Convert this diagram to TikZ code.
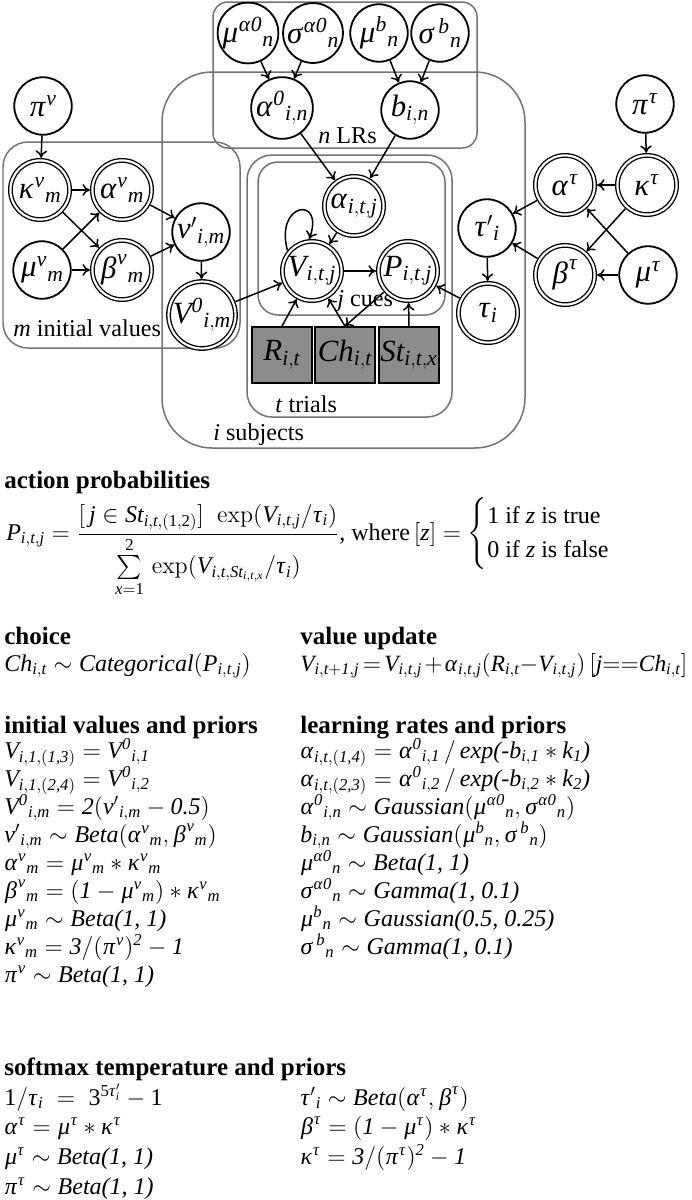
\documentclass[tikz,border=0pt]{standalone}
\usepackage{amsmath}
\usepackage{mathspec}
\setmainfont{Liberation Serif}
\setmathsfont(Digits,Latin,Greek){Liberation Serif}
\usetikzlibrary{arrows.meta}

\newcommand{\iz}{\textit{0}}

\begin{document}
\begin{tikzpicture}
[x=0.6pt,y=-0.6pt
,rv/.style={circle,draw,fill=white,line width=1.1pt,minimum size=34.5pt,inner sep=0pt,font=\fontsize{18.5}{20}\selectfont}
,dv/.style={rv,double,double distance=1.3pt,line width=0.8pt,minimum size=35.5pt,outer sep=1.5pt}
,ob/.style={draw,line width=1.1pt,fill=black!45,minimum width=36pt,minimum height=33.5pt,inner sep=0pt,font=\fontsize{18.5}{20}\selectfont}
,ed/.style={line width=0.9pt,arrows={-To[length=4.5pt,width=7pt]}}
,pl/.style={draw=black!55,line width=0.9pt}
,pll/.style={font=\fontsize{14.5}{17}\selectfont,anchor=base west,inner sep=0pt}
,hd/.style={font=\fontsize{15}{17}\selectfont\bfseries,anchor=base west,inner sep=0pt}
,fm/.style={font=\fontsize{14.4}{16.8}\selectfont,anchor=base west,inner sep=0pt}
,eq/.style={font={\fontsize{14.4}{16.8}\selectfont\lineskiplimit=-100pt},anchor=north west,align=left,inner sep=0pt}
]
\useasboundingbox (0,0) rectangle (692,1200);

% plates
\draw[pl,rounded corners=9pt] (213,2) rectangle (477,148);
\draw[pl,rounded corners=30pt] (162,72) rectangle (525,448);
\draw[pl,rounded corners=15pt] (3,142) rectangle (240,348);
\draw[pl,rounded corners=15pt] (247,155) rectangle (452,417);
\draw[pl,rounded corners=12pt] (258,162) rectangle (445,315);
\node[pll] (lrs) at (318,143) {\textit{n} LRs};
\node[pll] (ivs) at (13,336) {\textit{m} initial values};
\node[pll] (cues) at (337,306) {\textit{j} cues};
\node[pll] (trials) at (275,412) {\textit{t} trials};
\node[pll] (subj) at (213,440) {\textit{i} subjects};

% learning rate nodes
\node[rv] (muA) at (248,33) {$\mu^{\alpha\iz}{}_{n}$};
\node[rv] (sigA) at (313,33) {$\sigma^{\alpha\iz}{}_{n}$};
\node[rv] (muB) at (379,33) {$\mu^{b}{}_{n}$};
\node[rv] (sigB) at (440,33) {$\sigma^{\,b}{}_{n}$};
\node[rv] (alpha0) at (282,108) {$\alpha^{\iz}{}_{i,n}$};
\node[rv] (bin) at (410,110) {$b_{i,n}$};

% initial value nodes
\node[rv] (piv) at (43,106) {$\pi^{v}$};
\node[dv] (kapv) at (40,190) {$\kappa^{v}{}_{m}$};
\node[dv] (alpv) at (122,190) {$\alpha^{v}{}_{m}$};
\node[rv] (muv) at (42,270) {$\mu^{v}{}_{m}$};
\node[dv] (betv) at (122,270) {$\beta^{v}{}_{m}$};
\node[rv] (vp) at (201,232) {$v'{}_{i,m}$};
\node[dv] (V0) at (202,315) {$V^{\iz}{}_{i,m}$};

% trial nodes
\node[dv] (alpha) at (354,206) {$\alpha_{i,t,j}$};
\node[dv] (V) at (312,271) {$V_{i,t,j}$};
\node[dv] (P) at (408,271) {$P_{i,t,j}$};
\node[ob] (R) at (282,355) {$R_{i,t}$};
\node[ob] (Ch) at (345,355) {$Ch_{i,t}$};
\node[ob] (St) at (409,355) {$St_{i,t,x}$};

% temperature nodes
\node[rv] (taup) at (487,228) {$\tau'{}_{i}$};
\node[dv] (tau) at (488,313) {$\tau_{i}$};
\node[rv] (pitau) at (645,104) {$\pi^{\tau}$};
\node[dv] (alptau) at (565,185) {$\alpha^{\tau}$};
\node[dv] (kaptau) at (647,185) {$\kappa^{\tau}$};
\node[dv] (bettau) at (565,275) {$\beta^{\tau}$};
\node[rv] (mutau) at (648,275) {$\mu^{\tau}$};

\draw[ed] (muA) -- (alpha0);
\draw[ed] (sigA) -- (alpha0);
\draw[ed] (muB) -- (bin);
\draw[ed] (sigB) -- (bin);
\draw[ed] (alpha0) -- (alpha);
\draw[ed] (bin) -- (alpha);

\draw[ed] (piv) -- (kapv);
\draw[ed] (kapv) -- (alpv);
\draw[ed] (kapv) -- (betv);
\draw[ed] (muv) -- (alpv);
\draw[ed] (muv) -- (betv);
\draw[ed] (alpv) -- (vp);
\draw[ed] (betv) -- (vp);
\draw[ed] (vp) -- (V0);
\draw[ed] (V0) -- (V);

\draw[ed] (alpha) -- (V);
\draw[ed] (V.140) .. controls +(105:30pt) and +(70:28pt) .. (V.95);
\draw[ed] (V) -- (P);
\draw[ed] (R.north) -- (V);
\draw[ed] (Ch.north) -- (V);
\draw[ed] (P) -- (Ch.north);
\draw[ed] (St.north) -- (P);

\draw[ed] (pitau) -- (kaptau);
\draw[ed] (kaptau) -- (alptau);
\draw[ed] (kaptau) -- (bettau);
\draw[ed] (mutau) -- (alptau);
\draw[ed] (mutau) -- (bettau);
\draw[ed] (alptau) -- (taup);
\draw[ed] (bettau) -- (taup);
\draw[ed] (taup) -- (tau);
\draw[ed] (tau) -- (P);

% equations
\node[hd] (hap) at (4,488) {action probabilities};
\node[fm] (prob) at (6,540) {$P_{i,t,j} = \dfrac{[\,j \in St_{i,t,(1,2)}]\;\; \mathrm{exp}(V_{i,t,j}/\tau_i)}{\sum\limits_{x=1}^{2}\, \mathrm{exp}(V_{i,t,St_{i,t,x}}/\tau_i)}$, where$\,[z] = \begin{cases} 1 \text{ if } z \text{ is true}\\ 0 \text{ if } z \text{ is false}\end{cases}$};

\node[hd] (hch) at (4,644) {choice};
\node[hd] (hvu) at (300,644) {value update};
\node[fm] (ch) at (4,671) {$Ch_{i,t} \sim \textit{Categorical}(P_{i,t,j})$};
\node[fm,font=\fontsize{14}{16}\selectfont] (vu) at (300,671) {$\thickmuskip=2.5mu \medmuskip=1.5mu V_{i,t+\textit{1},j} = V_{i,t,j} + \alpha_{i,t,j}(R_{i,t}{-}V_{i,t,j})\,[j{=}{=}Ch_{i,t}]$};

\node[hd] (hiv) at (4,733) {initial values and priors};
\node[hd] (hlr) at (300,733) {learning rates and priors};
\node[eq] (iv) at (4,736) {\rule{0pt}{13pt}$V_{i,\textit{1},(\textit{1,3})} = V^{\iz}{}_{i,\textit{1}}$\\
  $V_{i,\textit{1},(\textit{2,4})} = V^{\iz}{}_{i,\textit{2}}$\\
  $V^{\iz}{}_{i,m} = \textit{2}(v'{}_{i,m} - \textit{0.5})$\\
  $v'{}_{i,m} \sim \textit{Beta}(\alpha^{v}{}_{m}, \beta^{v}{}_{m})$\\
  $\alpha^{v}{}_{m} = \mu^{v}{}_{m} * \kappa^{v}{}_{m}$\\
  $\beta^{v}{}_{m} = (\textit{1} - \mu^{v}{}_{m}) * \kappa^{v}{}_{m}$\\
  $\mu^{v}{}_{m} \sim \textit{Beta(1, 1)}$\\
  $\kappa^{v}{}_{m} = \textit{3}/(\pi^{v})^{\textit{2}} - \textit{1}$\\
  $\pi^{v} \sim \textit{Beta(1, 1)}$};
\node[eq] (lr) at (300,736) {\rule{0pt}{13pt}$\alpha_{i,t,(\textit{1,4})} = \alpha^{\iz}{}_{i,\textit{1}}\,/\,\textit{exp(-}b_{i,\textit{1}} * k_{\textit{1}}\textit{)}$\\
  $\alpha_{i,t,(\textit{2,3})} = \alpha^{\iz}{}_{i,\textit{2}}\,/\,\textit{exp(-}b_{i,\textit{2}} * k_{\textit{2}}\textit{)}$\\
  $\alpha^{\iz}{}_{i,n} \sim \textit{Gaussian}(\mu^{\alpha\iz}{}_{n}, \sigma^{\alpha\iz}{}_{n})$\\
  $b_{i,n} \sim \textit{Gaussian}(\mu^{b}{}_{n}, \sigma^{\,b}{}_{n})$\\
  $\mu^{\alpha\iz}{}_{n} \sim \textit{Beta(1, 1)}$\\
  $\sigma^{\alpha\iz}{}_{n} \sim \textit{Gamma(1, 0.1)}$\\
  $\mu^{b}{}_{n} \sim \textit{Gaussian(0.5, 0.25)}$\\
  $\sigma^{\,b}{}_{n} \sim \textit{Gamma(1, 0.1)}$};

\node[hd] (hsm) at (4,1075) {softmax temperature and priors};
\node[eq,font={\fontsize{14.4}{17.8}\selectfont\lineskiplimit=-100pt}] (sm) at (4,1083) {\rule{0pt}{13pt}$1/\tau_{i} \;=\; 3^{5\tau'_{i}} - 1$\\
  $\alpha^{\tau} = \mu^{\tau} * \kappa^{\tau}$\\
  $\mu^{\tau} \sim \textit{Beta(1, 1)}$\\
  $\pi^{\tau} \sim \textit{Beta(1, 1)}$};
\node[eq,font={\fontsize{14.4}{17.8}\selectfont\lineskiplimit=-100pt}] (smr) at (300,1083) {\rule{0pt}{13pt}$\tau'{}_{i} \sim \textit{Beta}(\alpha^{\tau}, \beta^{\tau})$\\
  $\beta^{\tau} = (\textit{1} - \mu^{\tau}) * \kappa^{\tau}$\\
  $\kappa^{\tau} = \textit{3}/(\pi^{\tau})^{\textit{2}} - \textit{1}$};
\end{tikzpicture}
\end{document}
